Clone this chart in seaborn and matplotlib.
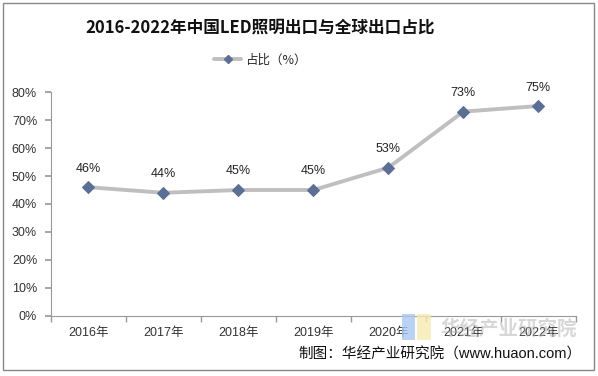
import matplotlib
matplotlib.use("Agg")
import matplotlib.pyplot as plt
import seaborn as sns
import pandas as pd
import numpy as np
from matplotlib.patches import Rectangle
from matplotlib.lines import Line2D

years = ["2016年", "2017年", "2018年", "2019年", "2020年", "2021年", "2022年"]
share = [0.46, 0.44, 0.45, 0.45, 0.53, 0.73, 0.75]
yticks = [0, 0.1, 0.2, 0.3, 0.4, 0.5, 0.6, 0.7, 0.8]
series_name = "占比（%）"
title = "2016-2022年中国LED照明出口与全球出口占比"
source = "制图：华经产业研究院（www.huaon.com）"

sns.set_theme(style="white")
plt.rcParams['font.family'] = ['Noto Sans CJK SC', 'DejaVu Sans']
mixed = ['Liberation Sans', 'Noto Sans CJK SC']

df = pd.DataFrame({"year": years, "share": share})

fig = plt.figure(figsize=(5.98, 3.76), dpi=100)
ax = fig.add_axes([0.0853, 0.1596, 0.8777, 0.5957])

line_c = "#BFBFBF"
mark_c = "#5B6E96"
sns.lineplot(data=df, x="year", y="share", ax=ax, color=line_c, linewidth=2.8,
             marker="D", markersize=6, markerfacecolor=mark_c, markeredgecolor=mark_c,
             sort=False)

ax.set_xlim(-0.5, len(years) - 0.5)
ax.set_ylim(0, 0.8)
ax.set_yticks(yticks)
ax.set_yticklabels([f"{int(round(v*100))}%" for v in yticks], fontsize=9, color="#333333",
                   family=mixed)
ax.set_xticks(range(len(years)))
ax.set_xticklabels(years, fontsize=9, color="#333333", family=mixed)
ax.set_xticks(np.arange(-0.5, len(years), 1), minor=True)
ax.tick_params(axis="x", which="major", length=0, pad=8)
ax.tick_params(axis="x", which="minor", length=4, color="#999999", direction="out", bottom=True)
ax.tick_params(axis="y", which="major", length=4, color="#999999", direction="out", left=True, pad=6)
ax.set_xlabel("")
ax.set_ylabel("")
for s in ["top", "right"]:
    ax.spines[s].set_visible(False)
for s in ["left", "bottom"]:
    ax.spines[s].set_color("#999999")
    ax.spines[s].set_linewidth(0.8)

for i, v in enumerate(share):
    ax.annotate(f"{int(round(v*100))}%", (i, v), xytext=(0, 9), textcoords="offset points",
                ha="center", va="bottom", fontsize=9, color="#222222", family=mixed)

fig.text(0.435, 0.928, title, ha="center", va="center", fontsize=12, fontweight="bold", color="#111111")

handle = Line2D([], [], color=line_c, linewidth=2.8, marker="D", markersize=4,
                markerfacecolor=mark_c, markeredgecolor=mark_c)
fig.legend([handle], [series_name], loc="center", bbox_to_anchor=(0.435, 0.84), frameon=False,
           fontsize=9, handlelength=2.2, handletextpad=0.3)

# watermark
fig.patches.append(Rectangle((0.672, 0.095), 0.022, 0.07, transform=fig.transFigure,
                             facecolor="#A9C8F0", edgecolor="none", alpha=0.8))
fig.patches.append(Rectangle((0.698, 0.095), 0.022, 0.07, transform=fig.transFigure,
                             facecolor="#F5EBB0", edgecolor="none", alpha=0.8))
fig.text(0.85, 0.125, "华经产业研究院", ha="center", va="center", fontsize=14, fontweight="bold",
         color="#B0B0B0", alpha=0.5)
fig.text(0.972, 0.056, source, ha="right", va="center", fontsize=10.5, color="#111111", family=mixed)

fig.patches.append(Rectangle((0.005, 0.016), 0.988, 0.975, transform=fig.transFigure,
                             facecolor="none", edgecolor="#888888", linewidth=1))

fig.savefig("out.png", dpi=100)
